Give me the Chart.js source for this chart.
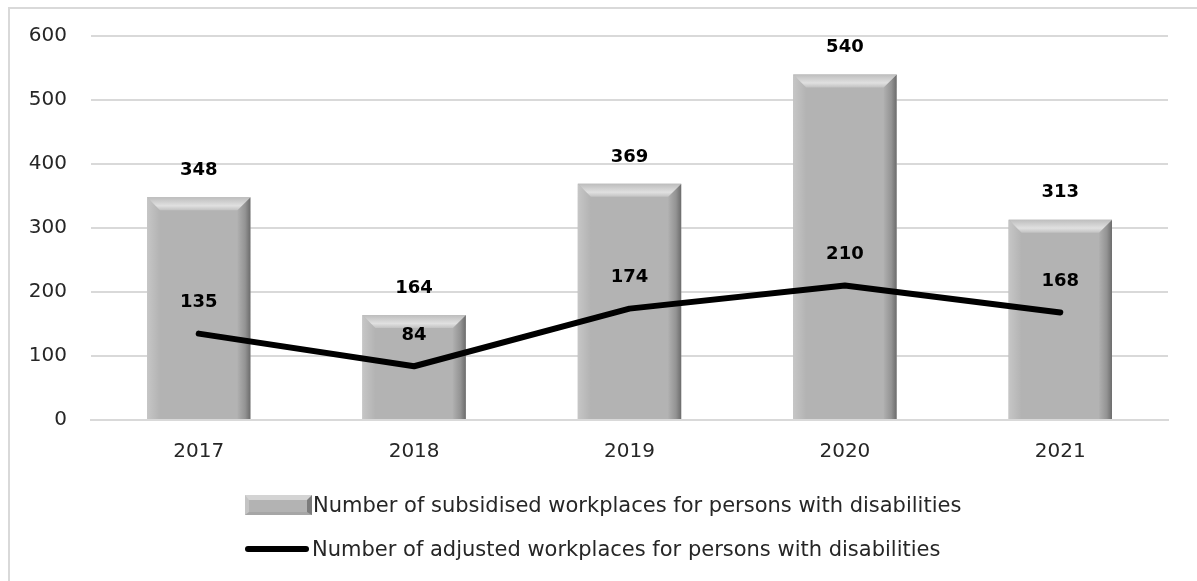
<!DOCTYPE html>
<html>
<head>
<meta charset="utf-8">
<script src="https://cdn.jsdelivr.net/npm/chart.js@4/dist/chart.umd.min.js"></script>
<style>
  html, body { margin: 0; padding: 0; background: #fff; overflow: hidden; }
  #wrap { position: relative; width: 1197px; height: 581px; }
  #frame { position: absolute; left: 8px; top: 7px; width: 1300px; height: 700px; border: 2px solid #d9d9d9; box-sizing: border-box; }
  #chart { position: absolute; left: 0; top: 0; }
  #legend { position: absolute; left: 245px; top: 490px; font-family: "DejaVu Sans", sans-serif; font-size: 21px; color: #262626; }
  .row { display: flex; align-items: center; height: 30px; margin-bottom: 14px; white-space: nowrap; }
  .barSwatch { width: 67px; height: 20px; margin-right: 1px; box-sizing: border-box; background: #b3b3b3;
    border-top: 5px solid #d4d4d4; border-left: 4px solid #c4c4c4; border-right: 5px solid #7c7c7c; border-bottom: 3px solid #a6a6a6; }
  .lineSwatch { width: 64px; height: 6px; border-radius: 3px; background: #000; margin-right: 3px; }
</style>
</head>
<body>
<div id="wrap">
  <div id="frame"></div>
  <canvas id="chart"></canvas>
  <div id="legend">
    <div class="row"><span class="barSwatch"></span><span id="lg0"></span></div>
    <div class="row"><span class="lineSwatch"></span><span id="lg1"></span></div>
  </div>
</div>
<script>
// Data
const years = ['2017', '2018', '2019', '2020', '2021'];
const subsidised = [348, 164, 369, 540, 313];
const adjusted = [135, 84, 174, 210, 168];
const subsidisedLabel = 'Number of subsidised workplaces for persons with disabilities';
const adjustedLabel = 'Number of adjusted workplaces for persons with disabilities';
const yTicks = [0, 100, 200, 300, 400, 500, 600];

document.getElementById('lg0').textContent = subsidisedLabel;
document.getElementById('lg1').textContent = adjustedLabel;

// Bevel look for the bars, drawn right after the bar dataset
const bevelPlugin = {
  id: 'bevel',
  afterDatasetDraw(chart, args) {
    if (args.index !== 0) return;
    const ctx = chart.ctx;
    const b = 13;
    args.meta.data.forEach((bar) => {
      const x0 = bar.x - bar.width / 2;
      const x1 = bar.x + bar.width / 2;
      const top = bar.y;
      const base = bar.base;
      ctx.save();
      // left side
      let g = ctx.createLinearGradient(x0, 0, x0 + b, 0);
      g.addColorStop(0, '#c6c6c6');
      g.addColorStop(1, '#b3b3b3');
      ctx.fillStyle = g;
      ctx.beginPath();
      ctx.moveTo(x0, top); ctx.lineTo(x0 + b, top + b); ctx.lineTo(x0 + b, base); ctx.lineTo(x0, base);
      ctx.closePath(); ctx.fill();
      // right side
      g = ctx.createLinearGradient(x1 - b, 0, x1, 0);
      g.addColorStop(0, '#b0b0b0');
      g.addColorStop(0.6, '#939393');
      g.addColorStop(1, '#6c6c6c');
      ctx.fillStyle = g;
      ctx.beginPath();
      ctx.moveTo(x1, top); ctx.lineTo(x1 - b, top + b); ctx.lineTo(x1 - b, base); ctx.lineTo(x1, base);
      ctx.closePath(); ctx.fill();
      // top side
      g = ctx.createLinearGradient(0, top, 0, top + b);
      g.addColorStop(0, '#bdbdbd');
      g.addColorStop(0.65, '#e0e0e0');
      g.addColorStop(1, '#c2c2c2');
      ctx.fillStyle = g;
      ctx.beginPath();
      ctx.moveTo(x0, top); ctx.lineTo(x1, top); ctx.lineTo(x1 - b, top + b); ctx.lineTo(x0 + b, top + b);
      ctx.closePath(); ctx.fill();
      ctx.restore();
    });
  }
};

// Value labels above bars and line points
const valueLabels = {
  id: 'valueLabels',
  afterDatasetsDraw(chart) {
    const ctx = chart.ctx;
    ctx.save();
    ctx.font = 'bold 18px "DejaVu Sans", sans-serif';
    ctx.fillStyle = '#000';
    ctx.textAlign = 'center';
    ctx.textBaseline = 'middle';
    chart.data.datasets.forEach((ds, i) => {
      const meta = chart.getDatasetMeta(i);
      meta.data.forEach((el, j) => {
        const off = ds.type === 'bar' ? 27 : 31;
        ctx.fillText(String(ds.data[j]), el.x, el.y - off);
      });
    });
    ctx.restore();
  }
};

const canvas = document.getElementById('chart');
canvas.width = 1197;
canvas.height = 581;

new Chart(canvas, {
  type: 'bar',
  data: {
    labels: years,
    datasets: [
      {
        type: 'bar',
        label: subsidisedLabel,
        data: subsidised,
        backgroundColor: '#b3b3b3',
        categoryPercentage: 1,
        barPercentage: 0.48,
        order: 1
      },
      {
        type: 'line',
        label: adjustedLabel,
        data: adjusted,
        borderColor: '#000',
        borderWidth: 6,
        borderCapStyle: 'round',
        borderJoinStyle: 'round',
        pointRadius: 0,
        tension: 0,
        order: 0
      }
    ]
  },
  options: {
    responsive: false,
    animation: false,
    layout: { padding: { top: 36, right: 29, left: 0, bottom: 0 } },
    plugins: { legend: { display: false }, tooltip: { enabled: false } },
    scales: {
      x: {
        grid: { display: false, drawTicks: false },
        border: { color: '#d9d9d9', width: 2 },
        ticks: { color: '#262626', padding: 20, font: { family: 'DejaVu Sans', size: 20 } },
        afterFit: (scale) => { scale.height = 161; }
      },
      y: {
        min: yTicks[0],
        max: yTicks[yTicks.length - 1],
        afterBuildTicks: (scale) => { scale.ticks = yTicks.map(v => ({ value: v })); },
        grid: { color: '#d9d9d9', lineWidth: 2, drawTicks: false },
        border: { display: false },
        ticks: { color: '#262626', padding: 24, font: { family: 'DejaVu Sans', size: 20 } },
        afterFit: (scale) => { scale.width = 91; }
      }
    }
  },
  plugins: [bevelPlugin, valueLabels]
});
</script>
</body>
</html>
